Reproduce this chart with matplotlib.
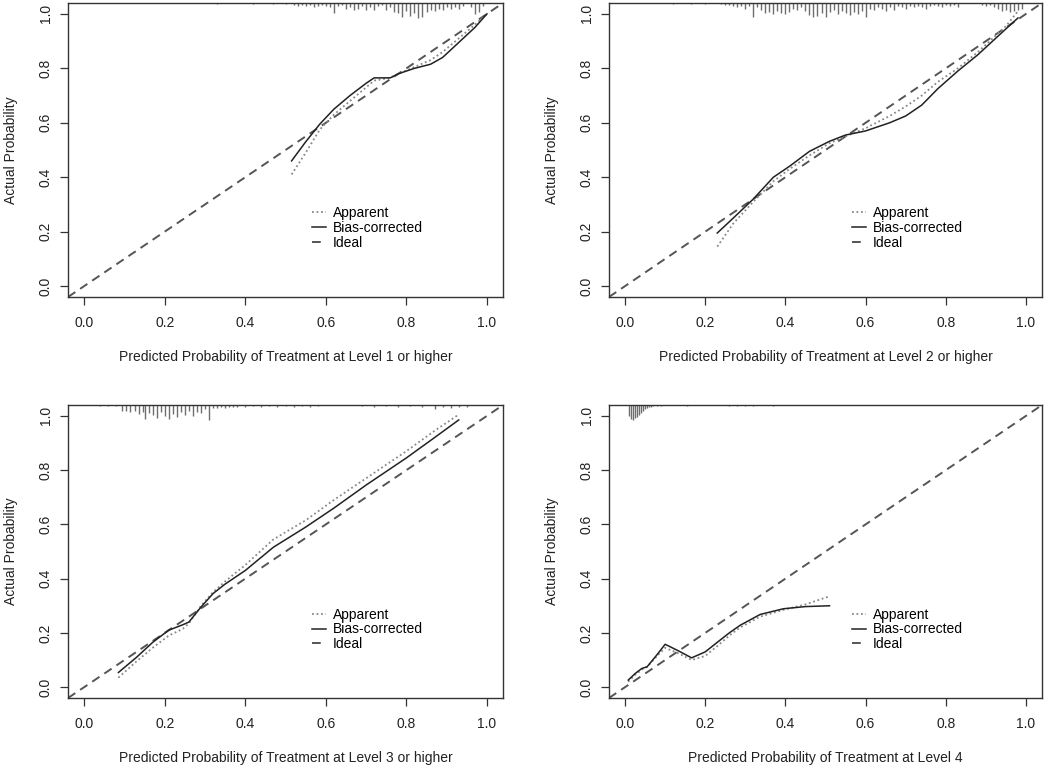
import numpy as np
import matplotlib
matplotlib.use("Agg")
import matplotlib.pyplot as plt

plt.rcParams["font.family"] = ["Liberation Sans", "DejaVu Sans"]

# Panel labels
xlabels = [
    "Predicted Probability of Treatment at Level 1 or higher",
    "Predicted Probability of Treatment at Level 2 or higher",
    "Predicted Probability of Treatment at Level 3 or higher",
    "Predicted Probability of Treatment at Level 4",
]

# Calibration curves (predicted, apparent, bias-corrected)
p1_x = [0.515, 0.55, 0.585, 0.62, 0.66, 0.70, 0.72, 0.76, 0.78, 0.82, 0.86, 0.89, 0.93, 0.97, 1.0]
p1_app = [0.41, 0.49, 0.575, 0.63, 0.68, 0.73, 0.755, 0.765, 0.78, 0.805, 0.83, 0.86, 0.91, 0.96, 1.0]
p1_bc = [0.46, 0.53, 0.595, 0.65, 0.70, 0.745, 0.765, 0.765, 0.78, 0.80, 0.815, 0.84, 0.895, 0.95, 1.0]

p2_x = [0.23, 0.27, 0.32, 0.37, 0.41, 0.46, 0.51, 0.55, 0.60, 0.66, 0.70, 0.74, 0.78, 0.83, 0.88, 0.95, 0.98]
p2_app = [0.145, 0.23, 0.31, 0.385, 0.43, 0.48, 0.525, 0.55, 0.58, 0.625, 0.66, 0.70, 0.75, 0.80, 0.86, 0.955, 1.01]
p2_bc = [0.195, 0.25, 0.32, 0.40, 0.44, 0.495, 0.532, 0.555, 0.57, 0.60, 0.625, 0.665, 0.725, 0.79, 0.85, 0.945, 0.985]

p3_x = [0.085, 0.13, 0.17, 0.21, 0.245, 0.26, 0.29, 0.32, 0.35, 0.40, 0.47, 0.55, 0.62, 0.70, 0.75, 0.80, 0.87, 0.93]
p3_app = [0.035, 0.095, 0.145, 0.19, 0.215, 0.235, 0.30, 0.35, 0.39, 0.45, 0.545, 0.615, 0.69, 0.77, 0.82, 0.87, 0.945, 1.005]
p3_bc = [0.054, 0.11, 0.165, 0.21, 0.23, 0.24, 0.295, 0.345, 0.38, 0.43, 0.516, 0.59, 0.66, 0.745, 0.795, 0.845, 0.92, 0.985]

p4_x = [0.008, 0.025, 0.042, 0.055, 0.08, 0.10, 0.133, 0.166, 0.20, 0.229, 0.26, 0.287, 0.337, 0.395, 0.45, 0.51]
p4_app = [0.02, 0.045, 0.065, 0.075, 0.115, 0.145, 0.125, 0.10, 0.115, 0.15, 0.19, 0.22, 0.26, 0.285, 0.305, 0.335]
p4_bc = [0.026, 0.05, 0.069, 0.075, 0.12, 0.158, 0.134, 0.108, 0.13, 0.164, 0.20, 0.228, 0.268, 0.289, 0.297, 0.30]

# Rug of predicted values (position, tick length in px)
rug1_x = [0.33, 0.42, 0.47, 0.50, 0.52, 0.53, 0.54, 0.55, 0.56, 0.57, 0.58, 0.59, 0.60, 0.61, 0.62, 0.63,
          0.64, 0.65, 0.66, 0.67, 0.68, 0.69, 0.70, 0.71, 0.72, 0.73, 0.74, 0.75, 0.76, 0.77, 0.78, 0.79,
          0.80, 0.81, 0.82, 0.83, 0.84, 0.85, 0.86, 0.87, 0.88, 0.89, 0.90, 0.91, 0.92, 0.93, 0.94, 0.96,
          0.97, 0.98, 0.99]
rug1_h = [1, 1, 1, 1, 2, 3, 2, 3, 2, 4, 3, 2, 3, 4, 9, 3,
          2, 5, 4, 6, 5, 3, 6, 4, 6, 3, 2, 6, 4, 8, 9, 13,
          7, 12, 9, 14, 13, 8, 6, 7, 5, 6, 4, 5, 4, 5, 3, 4,
          10, 8, 3]

rug2_x = [0.12, 0.165, 0.20, 0.24, 0.25, 0.26, 0.27, 0.28, 0.29, 0.30, 0.31, 0.32, 0.33, 0.34, 0.35, 0.36,
          0.37, 0.38, 0.39, 0.40, 0.41, 0.42, 0.43, 0.44, 0.45, 0.46, 0.47, 0.48, 0.49, 0.50, 0.51, 0.52,
          0.53, 0.54, 0.55, 0.56, 0.57, 0.58, 0.59, 0.60, 0.61, 0.62, 0.63, 0.64, 0.65, 0.66, 0.67, 0.68,
          0.69, 0.70, 0.71, 0.72, 0.73, 0.74, 0.75, 0.76, 0.77, 0.78, 0.79, 0.80, 0.81, 0.82, 0.83, 0.89,
          0.90, 0.91, 0.92, 0.93, 0.94, 0.95, 0.96, 0.97, 0.98, 0.99]
rug2_h = [1, 1, 1, 1, 2, 2, 3, 4, 3, 5, 3, 13, 4, 6, 9, 8,
          10, 7, 9, 10, 8, 5, 6, 4, 7, 11, 13, 12, 9, 13, 8, 6,
          10, 7, 9, 11, 8, 10, 7, 13, 5, 6, 4, 5, 7, 4, 6, 3,
          4, 5, 3, 4, 3, 4, 5, 3, 2, 3, 4, 2, 3, 2, 4, 2,
          3, 2, 4, 5, 7, 6, 8, 7, 6, 5]

rug3_x = [0.04, 0.06, 0.08, 0.095, 0.105, 0.115, 0.125, 0.135, 0.145, 0.15, 0.16, 0.17, 0.18, 0.19, 0.20,
          0.21, 0.22, 0.23, 0.24, 0.25, 0.26, 0.27, 0.28, 0.29, 0.30, 0.31, 0.32, 0.33, 0.34, 0.35, 0.36,
          0.37, 0.38, 0.40, 0.42, 0.44, 0.46, 0.48, 0.50, 0.52, 0.54, 0.56, 0.58, 0.69, 0.72, 0.75, 0.78,
          0.81, 0.84, 0.87, 0.89, 0.91, 0.93, 0.95]
rug3_h = [1, 1, 1, 5, 5, 6, 5, 8, 6, 13, 7, 9, 12, 6, 10,
          13, 8, 11, 6, 9, 5, 10, 6, 7, 4, 14, 3, 3, 2, 3, 2,
          2, 2, 2, 1, 2, 1, 2, 1, 2, 1, 2, 1, 1, 2, 1, 2,
          1, 2, 4, 2, 3, 2, 2]

rug4_x = [0.01, 0.015, 0.02, 0.025, 0.03, 0.035, 0.04, 0.045, 0.05, 0.055, 0.06, 0.065, 0.07, 0.08, 0.09,
          0.155, 0.26, 0.28, 0.30, 0.32, 0.37]
rug4_h = [10, 13, 14, 12, 11, 9, 7, 5, 4, 3, 2, 2, 1, 1, 1,
          1, 1, 1, 1, 1, 1]

panels = [
    (p1_x, p1_app, p1_bc, rug1_x, rug1_h),
    (p2_x, p2_app, p2_bc, rug2_x, rug2_h),
    (p3_x, p3_app, p3_bc, rug3_x, rug3_h),
    (p4_x, p4_app, p4_bc, rug4_x, rug4_h),
]

positions = [
    [0.0648, 0.6143, 0.4143, 0.3818],
    [0.5800, 0.6143, 0.4124, 0.3818],
    [0.0648, 0.0935, 0.4143, 0.3805],
    [0.5800, 0.0935, 0.4124, 0.3805],
]

FS = 10
ticks = [0.0, 0.2, 0.4, 0.6, 0.8, 1.0]
tick_labels = ["0.0", "0.2", "0.4", "0.6", "0.8", "1.0"]


def main():
    fig = plt.figure(figsize=(10.5, 7.7), dpi=100)

    for (x, app, bc, rx, rh), pos, xl in zip(panels, positions, xlabels):
        ax = fig.add_axes(pos)
        ax.set_xlim(-0.04, 1.04)
        ax.set_ylim(-0.04, 1.04)

        # rug ticks hanging from the top frame
        px = (1.08 / (pos[3] * 770))
        rh = np.array(rh) * px * 1.1
        ax.vlines(rx, 1.04 - rh, 1.04, color="#6e6e6e", lw=1.0)

        ax.plot([-0.04, 1.04], [-0.04, 1.04], color="#555555", lw=1.4,
                dashes=(4.5, 3), label="Ideal")
        ax.plot(x, app, color="#888888", lw=1.3, ls=(0, (1, 1.5)), label="Apparent")
        ax.plot(x, bc, color="#222222", lw=1.1, label="Bias-corrected")

        handles, labels = ax.get_legend_handles_labels()
        order = [1, 2, 0]
        ax.legend([handles[i] for i in order], [labels[i] for i in order],
                  loc="upper left", bbox_to_anchor=(0.566, 0.293),
                  bbox_transform=ax.transData, frameon=False, fontsize=FS,
                  handlelength=1.0, handletextpad=0.5, labelspacing=0.05,
                  borderpad=0, borderaxespad=0)

        ax.set_xticks(ticks)
        ax.set_xticklabels(tick_labels)
        ax.set_yticks(ticks)
        ax.set_yticklabels(tick_labels, rotation=90, va="center")
        ax.tick_params(direction="out", length=6, width=0.9, colors="#333333",
                       labelsize=FS, labelcolor="#222222")
        ax.tick_params(axis="x", pad=8)
        ax.tick_params(axis="y", pad=5)

        for s in ax.spines.values():
            s.set_color("#333333")
            s.set_linewidth(1.0)

        ax.set_xlabel(xl, fontsize=FS, color="#222222")
        ax.xaxis.set_label_coords(0.5, -0.18)
        ax.set_ylabel("Actual Probability", fontsize=FS, color="#222222")
        ax.yaxis.set_label_coords(-0.115, 0.5)

    fig.savefig("out.png", dpi=100)


if __name__ == "__main__":
    main()
